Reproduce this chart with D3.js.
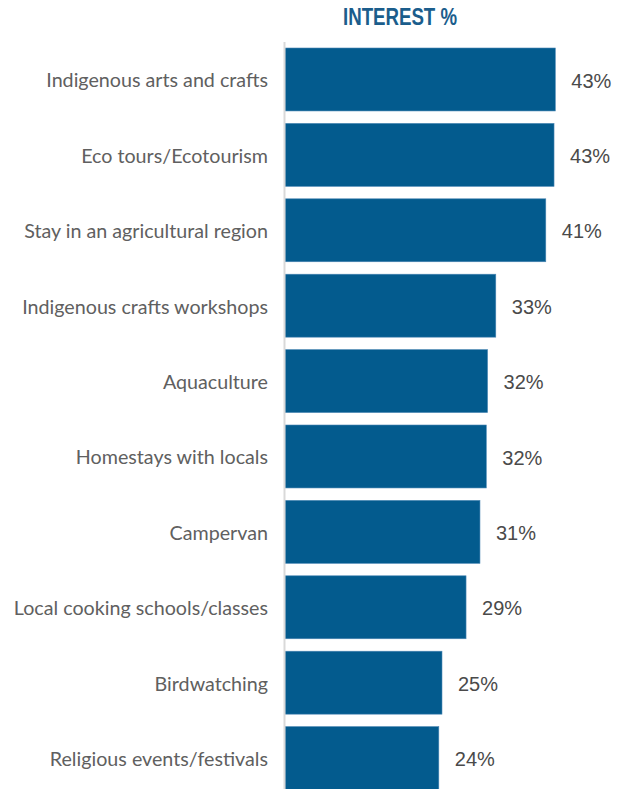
<!DOCTYPE html>
<html>
<head>
<meta charset="utf-8">
<script src="https://cdn.jsdelivr.net/npm/d3@7/dist/d3.min.js"></script>
<style>
	html, body { margin: 0; padding: 0; background: #fff; }
	svg { display: block; }
</style>
</head>
<body>
<div id="canvas"></div>
<script>
// Chart data
var categories = [
	'Indigenous arts and crafts',
	'Eco tours/Ecotourism',
	'Stay in an agricultural region',
	'Indigenous crafts workshops',
	'Aquaculture',
	'Homestays with locals',
	'Campervan',
	'Local cooking schools/classes',
	'Birdwatching',
	'Religious events/festivals'
];
var interest = [42.7, 42.5, 41.2, 33.3, 32.0, 31.8, 30.8, 28.6, 24.8, 24.3];
var valueLabels = ['43%', '43%', '41%', '33%', '32%', '32%', '31%', '29%', '25%', '24%'];
var title = 'INTEREST %';

document.addEventListener('DOMContentLoaded', function() {
	var width = 621,
		height = 789,
		barColor = '#035b8e',
		titleColor = '#1b5d8c';

	var svg = d3.select('#canvas').append('svg')
		.attr('width', width)
		.attr('height', height);

	var x = d3.scaleLinear().domain([0, 50]).range([285, 285 + 6.33 * 50]);
	// step ~75.4px, bar ~63px, first bar top at 48
	var y = d3.scaleBand()
		.domain(categories)
		.range([48, 48 + 75.4 * 9.835])
		.paddingInner(0.165)
		.paddingOuter(0);

	var rows = categories.map(function(c, i) {
		return { cat: c, value: interest[i], label: valueLabels[i] };
	});

	// title
	svg.append('text')
		.attr('x', 400)
		.attr('y', 25)
		.attr('text-anchor', 'middle')
		.attr('textLength', 114)
		.attr('lengthAdjust', 'spacingAndGlyphs')
		.style('font-family', '"Liberation Sans", Arial, sans-serif')
		.style('font-weight', 'bold')
		.style('font-size', '24px')
		.style('fill', titleColor)
		.text(title);

	// bars
	svg.selectAll('rect.bar')
		.data(rows)
		.enter()
		.append('rect')
		.attr('class', 'bar')
		.attr('x', x(0))
		.attr('y', function(d) { return y(d.cat); })
		.attr('width', function(d) { return x(d.value) - x(0); })
		.attr('height', y.bandwidth())
		.style('fill', barColor)
		.style('stroke', '#4a86b4')
		.style('stroke-width', 0.6);

	// axis line
	svg.append('line')
		.attr('x1', x(0) - 0.5).attr('x2', x(0) - 0.5)
		.attr('y1', 42).attr('y2', height)
		.style('stroke', '#d9d9d9')
		.style('stroke-width', 2);

	// category labels
	svg.selectAll('text.cat')
		.data(rows)
		.enter()
		.append('text')
		.attr('class', 'cat')
		.attr('x', 268)
		.attr('y', function(d) { return y(d.cat) + y.bandwidth() / 2 + 1; })
		.attr('dy', '0.35em')
		.attr('text-anchor', 'end')
		.style('font-family', 'Lato, "Noto Sans", sans-serif')
		.style('font-size', '19.7px')
		.style('fill', '#606060')
		.text(function(d) { return d.cat; });

	// value labels
	svg.selectAll('text.val')
		.data(rows)
		.enter()
		.append('text')
		.attr('class', 'val')
		.attr('x', function(d) { return x(d.value) + 16; })
		.attr('y', function(d) { return y(d.cat) + y.bandwidth() / 2 + 1; })
		.attr('dy', '0.36em')
		.style('font-family', '"Liberation Sans", Arial, sans-serif')
		.style('font-size', '20px')
		.style('fill', '#4a4a4a')
		.text(function(d) { return d.label; });
});
</script>
</body>
</html>
